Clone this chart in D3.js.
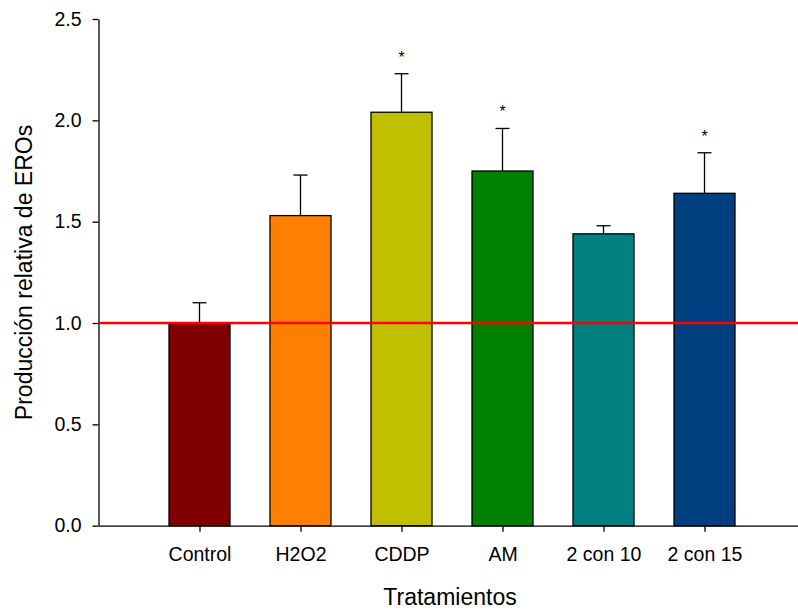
<!DOCTYPE html>
<html>
<head>
<meta charset="utf-8">
<script src="https://cdn.jsdelivr.net/npm/d3@7"></script>
<style>
  body { margin: 0; background: #fff; }
  svg { display: block; font-family: "Liberation Sans", Arial, sans-serif; }
</style>
</head>
<body>
<div id="chart"></div>
<script>
// data
var categories = ["Control", "H2O2", "CDDP", "AM", "2 con 10", "2 con 15"];
var values = [1.0, 1.53, 2.04, 1.75, 1.44, 1.64];
var errors = [0.10, 0.20, 0.19, 0.21, 0.04, 0.20];
var significant = [false, false, true, true, false, true];
var colors = ["#800000", "#ff8000", "#c0c000", "#008000", "#008080", "#004080"];
var yTicks = [0, 0.5, 1.0, 1.5, 2.0, 2.5];
var refLine = 1.0;

var W = 798, H = 610;
var svg = d3.select("#chart").append("svg")
    .attr("width", W)
    .attr("height", H);

var plotLeft = 98.5, plotBottom = 525.7, plotTop = 19;

// bars sit at positions 1..6 on a 0..7 linear scale
var x = d3.scaleLinear()
    .domain([0, 7])
    .range([plotLeft, plotLeft + 7 * 101]);

var y = d3.scaleLinear()
    .domain([0, 2.5])
    .range([plotBottom, plotTop]);

var barW = 61;
var capW = 14;

svg.append("g").selectAll("rect")
    .data(values)
    .join("rect")
    .attr("x", (d, i) => x(i + 1) - barW / 2)
    .attr("y", d => y(d))
    .attr("width", barW)
    .attr("height", d => y(0) - y(d))
    .attr("fill", (d, i) => colors[i])
    .attr("stroke", "#000")
    .attr("stroke-width", 1.3);

// upward error bars
var err = svg.append("g").attr("stroke", "#000").attr("stroke-width", 1.3);
values.forEach((v, i) => {
    var cx = x(i + 1);
    err.append("line")
        .attr("x1", cx).attr("x2", cx)
        .attr("y1", y(v)).attr("y2", y(v + errors[i]));
    err.append("line")
        .attr("x1", cx - capW / 2).attr("x2", cx + capW / 2)
        .attr("y1", y(v + errors[i])).attr("y2", y(v + errors[i]));
});

// asterisks
svg.append("g").selectAll("text")
    .data(values.map((v, i) => ({v: v, e: errors[i], s: significant[i], i: i})).filter(d => d.s))
    .join("text")
    .attr("x", d => x(d.i + 1))
    .attr("y", d => y(d.v + d.e) - 11)
    .attr("text-anchor", "middle")
    .attr("font-size", 16)
    .text("*");

// y axis
var yAxis = svg.append("g")
    .attr("transform", "translate(" + plotLeft + ",0)")
    .call(d3.axisLeft(y).tickValues(yTicks).tickFormat(d3.format(".1f")).tickSize(6).tickSizeOuter(0).tickPadding(11));
yAxis.selectAll("text").attr("font-size", 19.5).attr("fill", "#000").attr("font-family", "Liberation Sans, Arial, sans-serif");
yAxis.selectAll("line,path").attr("stroke", "#000").attr("stroke-width", 1.3);

// x axis
var xAxis = svg.append("g")
    .attr("transform", "translate(0," + plotBottom + ")")
    .call(d3.axisBottom(x).tickValues(d3.range(1, 7)).tickFormat(d => categories[d - 1]).tickSize(6).tickSizeOuter(0).tickPadding(15));
xAxis.selectAll("text").attr("font-size", 19.5).attr("fill", "#000").attr("font-family", "Liberation Sans, Arial, sans-serif");
xAxis.selectAll("line,path").attr("stroke", "#000").attr("stroke-width", 1.3);

// reference line at 1.0
svg.append("line")
    .attr("x1", plotLeft).attr("x2", W)
    .attr("y1", y(refLine)).attr("y2", y(refLine))
    .attr("stroke", "#ff0000")
    .attr("stroke-width", 2.6);

// axis titles
svg.append("text")
    .attr("x", 450)
    .attr("y", 605)
    .attr("text-anchor", "middle")
    .attr("font-size", 23)
    .text("Tratamientos");

svg.append("text")
    .attr("transform", "translate(32,272.5) rotate(-90)")
    .attr("text-anchor", "middle")
    .attr("font-size", 23)
    .text("Producción relativa de EROs");
</script>
</body>
</html>
